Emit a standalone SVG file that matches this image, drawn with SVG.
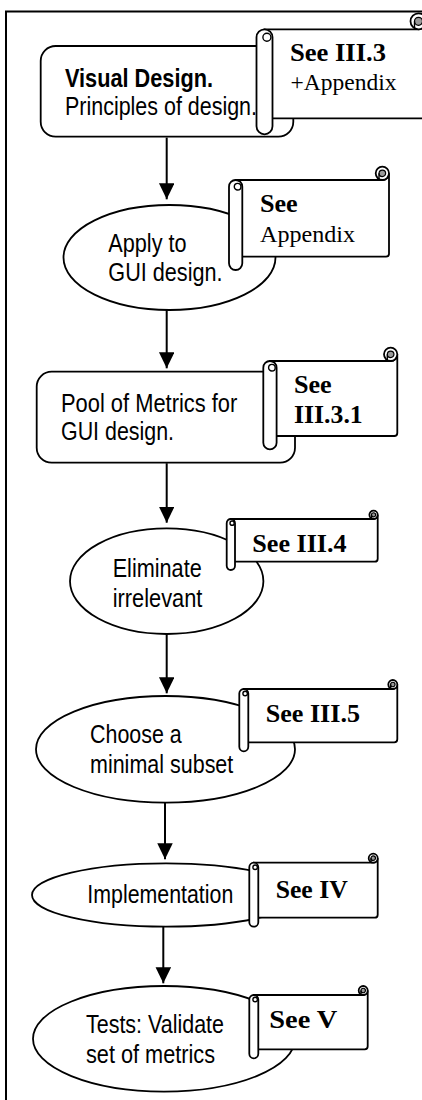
<svg xmlns="http://www.w3.org/2000/svg" width="422" height="1100" viewBox="0 0 422 1100">
  <style>
    .shape { fill: #fff; stroke: #000; stroke-width: 1.8; }
    .frame { fill: none; stroke: #000; stroke-width: 2; }
    .edge { fill: none; stroke: #000; stroke-width: 2; }
    .curlcore { fill: #999; stroke: #000; stroke-width: 1.2; }
    .thin { fill: none; stroke: #000; stroke-width: 1.4; }
    .loop { fill: #fff; stroke: #000; stroke-width: 1.4; }
    .lbl { font-family: "Liberation Sans", Arial, sans-serif; font-size: 26.5px; fill: #000; }
    .lbl-b { font-weight: bold; }
    .note { font-family: "Liberation Serif", "Times New Roman", serif; font-size: 26px; font-weight: bold; fill: #000; }
    .note-r { font-family: "Liberation Serif", "Times New Roman", serif; font-size: 24px; fill: #000; }
  </style>
  <defs>
    <marker id="head" markerUnits="userSpaceOnUse" markerWidth="17" markerHeight="16" refX="16" refY="7.75" orient="auto">
      <path d="M0,0 L16,7.75 L0,15.5 Z" fill="#000"/>
    </marker>
  </defs>

  <rect width="422" height="1100" fill="#fff"/>

  <!-- outer frame (runs past the right and bottom edges) -->
  <path class="frame" d="M6,1102 V11.5 H424"/>

  <!-- flow steps -->
  <g id="step-visual-design">
    <rect class="shape" x="40.7" y="46" width="252.6" height="90.7" rx="15"/>
    <text class="lbl lbl-b" x="65" y="86.5" font-size="25.5" textLength="148" lengthAdjust="spacingAndGlyphs">Visual Design.</text>
    <text class="lbl" x="65" y="115" font-size="25.5" textLength="192" lengthAdjust="spacingAndGlyphs">Principles of design.</text>
  </g>

  <g id="step-apply-gui">
    <ellipse class="shape" cx="169.5" cy="257.5" rx="106" ry="52.5"/>
    <text class="lbl" x="108.3" y="251.7" textLength="78.3" lengthAdjust="spacingAndGlyphs">Apply to</text>
    <text class="lbl" x="108.3" y="281" textLength="114.3" lengthAdjust="spacingAndGlyphs">GUI design.</text>
  </g>

  <g id="step-metric-pool">
    <rect class="shape" x="36.7" y="371.7" width="258.3" height="91" rx="15"/>
    <text class="lbl" x="61" y="411.7" textLength="176.3" lengthAdjust="spacingAndGlyphs">Pool of Metrics for</text>
    <text class="lbl" x="61" y="440" textLength="113" lengthAdjust="spacingAndGlyphs">GUI design.</text>
  </g>

  <g id="step-eliminate">
    <ellipse class="shape" cx="166.7" cy="581.2" rx="96.7" ry="52.8"/>
    <text class="lbl" x="112.7" y="576.7" textLength="89" lengthAdjust="spacingAndGlyphs">Eliminate</text>
    <text class="lbl" x="112.7" y="606.7" textLength="89.7" lengthAdjust="spacingAndGlyphs">irrelevant</text>
  </g>

  <g id="step-subset">
    <ellipse class="shape" cx="165.5" cy="749.3" rx="129.5" ry="53.3"/>
    <text class="lbl" x="90" y="743.3" textLength="91.7" lengthAdjust="spacingAndGlyphs">Choose a</text>
    <text class="lbl" x="90" y="773.3" textLength="143.3" lengthAdjust="spacingAndGlyphs">minimal subset</text>
  </g>

  <g id="step-implementation">
    <ellipse class="shape" cx="166" cy="895" rx="134" ry="31.7"/>
    <text class="lbl" x="87.3" y="903.3" textLength="146" lengthAdjust="spacingAndGlyphs">Implementation</text>
  </g>

  <g id="step-tests">
    <ellipse class="shape" cx="164" cy="1038.8" rx="131" ry="52.8"/>
    <text class="lbl" x="86" y="1033.3" textLength="138" lengthAdjust="spacingAndGlyphs">Tests: Validate</text>
    <text class="lbl" x="86" y="1062.7" textLength="129" lengthAdjust="spacingAndGlyphs">set of metrics</text>
  </g>

  <!-- section reference scrolls -->
  <g id="ref-iii-3">
    <g transform="translate(256.5,29.3)">
      <path class="shape" d="M8,0 H162 A8 8 0 0 0 170,-8 V86 Q170,89 167,89 H8 Z"/>
      <circle class="shape" cx="162" cy="-8" r="8"/>
      <circle class="curlcore" cx="162" cy="-8" r="4"/>
      <path class="thin" d="M158,-8 V0"/>
      <rect class="shape" x="0" y="0" width="16" height="105" rx="8"/>
      <circle class="loop" cx="10.4" cy="8" r="4"/>
    </g>
    <text class="note" x="290" y="61" textLength="96" lengthAdjust="spacingAndGlyphs">See III.3</text>
    <text class="note-r" x="290.5" y="90" textLength="106" lengthAdjust="spacingAndGlyphs">+Appendix</text>
  </g>

  <g id="ref-appendix">
    <g transform="translate(229,180)">
      <path class="shape" d="M6.65,0 H153.35 A6.65 6.65 0 0 0 160,-6.65 V73.7 Q160,76.7 157,76.7 H6.65 Z"/>
      <circle class="shape" cx="153.35" cy="-6.65" r="6.65"/>
      <circle class="curlcore" cx="153.35" cy="-6.65" r="3.3"/>
      <path class="thin" d="M150,-6.65 V0"/>
      <rect class="shape" x="0" y="0" width="13.3" height="90" rx="6.65"/>
      <circle class="loop" cx="8.6" cy="6.65" r="3.3"/>
    </g>
    <text class="note" x="260" y="211.7" textLength="37.7" lengthAdjust="spacingAndGlyphs">See</text>
    <text class="note-r" x="260" y="241.7" textLength="95" lengthAdjust="spacingAndGlyphs">Appendix</text>
  </g>

  <g id="ref-iii-3-1">
    <g transform="translate(263.3,361)">
      <path class="shape" d="M6.65,0 H127.35 A6.65 6.65 0 0 0 134,-6.65 V72 Q134,75 131,75 H6.65 Z"/>
      <circle class="shape" cx="127.35" cy="-6.65" r="6.65"/>
      <circle class="curlcore" cx="127.35" cy="-6.65" r="3.3"/>
      <path class="thin" d="M124,-6.65 V0"/>
      <rect class="shape" x="0" y="0" width="13.3" height="88.3" rx="6.65"/>
      <circle class="loop" cx="8.6" cy="6.65" r="3.3"/>
    </g>
    <text class="note" x="294" y="393.3" textLength="37.7" lengthAdjust="spacingAndGlyphs">See</text>
    <text class="note" x="294" y="423.3" textLength="68.7" lengthAdjust="spacingAndGlyphs">III.3.1</text>
  </g>

  <g id="ref-iii-4">
    <g transform="translate(226.7,519)">
      <path class="shape" d="M4.15,0 H146.85 A4.15 4.15 0 0 0 151,-4.15 V39.7 Q151,42.7 148,42.7 H4.15 Z"/>
      <circle class="shape" cx="146.85" cy="-4.15" r="4.15"/>
      <circle class="curlcore" cx="146.85" cy="-4.15" r="2.1"/>
      <path class="thin" d="M144.8,-4.15 V0"/>
      <rect class="shape" x="0" y="0" width="8.3" height="51" rx="4.15"/>
      <circle class="loop" cx="5.4" cy="4.15" r="2.1"/>
    </g>
    <text class="note" x="252.3" y="551.7" textLength="94.3" lengthAdjust="spacingAndGlyphs">See III.4</text>
  </g>

  <g id="ref-iii-5">
    <g transform="translate(239.3,689)">
      <path class="shape" d="M4.5,0 H153.5 A4.5 4.5 0 0 0 158,-4.5 V50.3 Q158,53.3 155,53.3 H4.5 Z"/>
      <circle class="shape" cx="153.5" cy="-4.5" r="4.5"/>
      <circle class="curlcore" cx="153.5" cy="-4.5" r="2.25"/>
      <path class="thin" d="M151.25,-4.5 V0"/>
      <rect class="shape" x="0" y="0" width="9" height="62.3" rx="4.5"/>
      <circle class="loop" cx="5.85" cy="4.5" r="2.25"/>
    </g>
    <text class="note" x="265.7" y="721.7" textLength="94.3" lengthAdjust="spacingAndGlyphs">See III.5</text>
  </g>

  <g id="ref-iv">
    <g transform="translate(249.3,862.7)">
      <path class="shape" d="M4.5,0 H123.9 A4.5 4.5 0 0 0 128.4,-4.5 V52 Q128.4,55 125.4,55 H4.5 Z"/>
      <circle class="shape" cx="123.9" cy="-4.5" r="4.5"/>
      <circle class="curlcore" cx="123.9" cy="-4.5" r="2.25"/>
      <path class="thin" d="M121.65,-4.5 V0"/>
      <rect class="shape" x="0" y="0" width="9" height="64" rx="4.5"/>
      <circle class="loop" cx="5.85" cy="4.5" r="2.25"/>
    </g>
    <text class="note" x="275.7" y="898.3" textLength="72" lengthAdjust="spacingAndGlyphs">See IV</text>
  </g>

  <g id="ref-v">
    <g transform="translate(249.3,995)">
      <path class="shape" d="M4.5,0 H113.9 A4.5 4.5 0 0 0 118.4,-4.5 V51.3 Q118.4,54.3 115.4,54.3 H4.5 Z"/>
      <circle class="shape" cx="113.9" cy="-4.5" r="4.5"/>
      <circle class="curlcore" cx="113.9" cy="-4.5" r="2.25"/>
      <path class="thin" d="M111.65,-4.5 V0"/>
      <rect class="shape" x="0" y="0" width="9" height="63.3" rx="4.5"/>
      <circle class="loop" cx="5.85" cy="4.5" r="2.25"/>
    </g>
    <text class="note" x="269.3" y="1028.3" textLength="68" lengthAdjust="spacingAndGlyphs">See V</text>
  </g>

  <!-- connectors -->
  <g id="connectors">
    <path class="edge" d="M166.7,137.6 V199.3" marker-end="url(#head)"/>
    <path class="edge" d="M166.7,310 V368.3" marker-end="url(#head)"/>
    <path class="edge" d="M166.7,463.2 V522.7" marker-end="url(#head)"/>
    <path class="edge" d="M166.7,634 V693.3" marker-end="url(#head)"/>
    <path class="edge" d="M165,802.6 V859.3" marker-end="url(#head)"/>
    <path class="edge" d="M163.3,926.7 V983.3" marker-end="url(#head)"/>
  </g>
</svg>
